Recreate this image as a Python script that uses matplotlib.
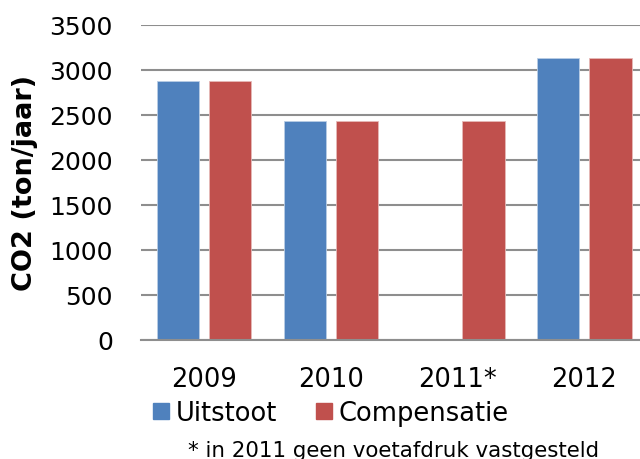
import numpy as np
import matplotlib
matplotlib.use("Agg")
import matplotlib.pyplot as plt
from matplotlib.patches import Patch

# chart data
years = ["2009", "2010", "2011*", "2012"]
uitstoot = [2875, 2430, np.nan, 3130]
compensatie = [2875, 2430, 2430, 3130]
y_ticks = [0, 500, 1000, 1500, 2000, 2500, 3000, 3500]

BLUE = "#4F81BD"
RED = "#C0504D"
GRID = "#8E8E8E"

plt.rcParams["font.family"] = ["DejaVu Sans"]

fig = plt.figure(figsize=(6.4, 4.6), dpi=100)
ax = fig.add_axes([140.7 / 640, 1 - 340.7 / 460, 1 - 140.7 / 640, (340.7 - 25.7) / 460])

x = np.arange(len(years))
w = 0.334
off = 0.206
ax.bar(x - off, uitstoot, w, color=BLUE, edgecolor="#b9cde5", linewidth=0.6, zorder=3)
ax.bar(x + off, compensatie, w, color=RED, edgecolor="#e6b9b8", linewidth=0.6, zorder=3)

ax.set_xlim(-0.5, 3.44)
ax.set_ylim(0, 3500)
ax.set_yticks(y_ticks)
ax.set_xticks(x)
ax.set_xticklabels(years)
ax.tick_params(axis="x", length=0, pad=19, labelsize=18.5)
ax.tick_params(axis="y", length=0, pad=20, labelsize=18)

ax.yaxis.grid(True, color=GRID, linewidth=1.5, zorder=0)
ax.set_axisbelow(True)
for s in ["left", "right", "top"]:
    ax.spines[s].set_visible(False)
ax.spines["bottom"].set_color(GRID)
ax.spines["bottom"].set_linewidth(1.5)
ax.spines["bottom"].set_zorder(4)

fig.text(25 / 640, 1 - 182.5 / 460, "CO2 (ton/jaar)", rotation=90,
         ha="center", va="center", fontsize=19.5, fontweight="bold")

handles = [Patch(color=BLUE, label="Uitstoot"), Patch(color=RED, label="Compensatie")]
fig.legend(handles=handles, loc="center", bbox_to_anchor=(331 / 640, 1 - 414 / 460),
           ncol=2, frameon=False, fontsize=18.5, handlelength=0.6, handleheight=0.6,
           handletextpad=0.26, columnspacing=1.54, borderpad=0, borderaxespad=0)

fig.text(394 / 640, 1 - 451 / 460, "* in 2011 geen voetafdruk vastgesteld",
         ha="center", va="center", fontsize=15.4)

fig.savefig("out.png", dpi=100)
